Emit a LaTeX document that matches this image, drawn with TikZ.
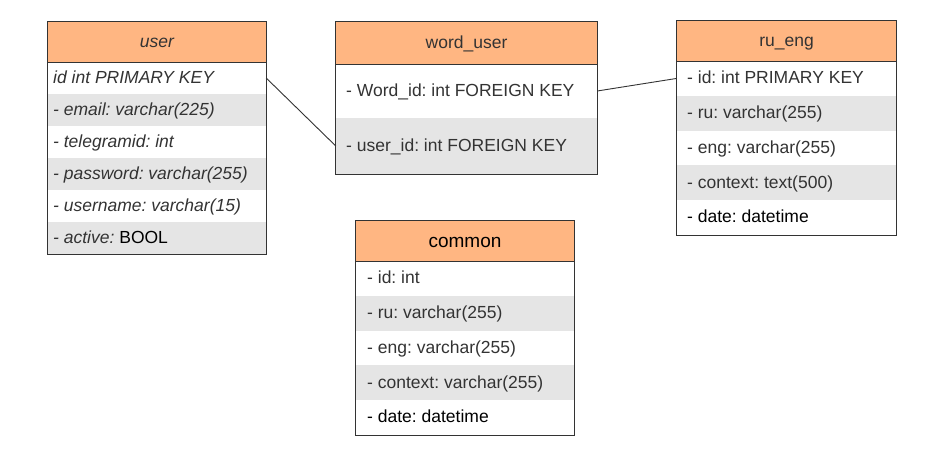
\documentclass[tikz,border=0pt]{standalone}
\usepackage{fontspec}
\setmainfont{Liberation Sans}
\frenchspacing
\definecolor{hdr}{HTML}{FFB682}
\definecolor{alt}{HTML}{E5E5E5}
\definecolor{ink}{HTML}{333333}
\begin{document}
\begin{tikzpicture}[x=1pt,y=-1pt,
  cell/.style={draw=none,inner sep=0pt,minimum width=#1},
  head/.style={fill=hdr},
  grayrow/.style={fill=alt},
  whiterow/.style={fill=white},
  frame/.style={draw=ink,line width=1.3pt},
  txt/.style={anchor=base west,inner sep=0pt,text=ink,font=\frenchspacing\fontsize{17.5}{20}\selectfont},
  htxt/.style={anchor=base,inner sep=0pt,text=ink,font=\frenchspacing\fontsize{17.5}{20}\selectfont},
  link/.style={draw=ink,line width=0.9pt}]
\useasboundingbox[fill=white] (0,0) rectangle (927,451);

% ---------- user ----------
\node[cell=218pt,minimum height=40pt,head] (uh) at (157,42) {};
\node[cell=218pt,minimum height=32pt,whiterow] (u1) at (157,78) {};
\node[cell=218pt,minimum height=32pt,grayrow] (u2) at (157,110) {};
\node[cell=218pt,minimum height=32pt,whiterow] (u3) at (157,142) {};
\node[cell=218pt,minimum height=32pt,grayrow] (u4) at (157,174) {};
\node[cell=218pt,minimum height=32pt,whiterow] (u5) at (157,206) {};
\node[cell=218pt,minimum height=32pt,grayrow] (u6) at (157,238) {};
\draw[frame] (uh.north west) rectangle (u6.south east);
\draw[frame] (uh.south west) -- (uh.south east);
\node[htxt] (uht) at (157,47) {\itshape user};
\node[txt] (u1t) at (53,83) {\itshape id int PRIMARY KEY};
\node[txt] (u2t) at (53,115) {\itshape - email: varchar(225)};
\node[txt] (u3t) at (53,147) {\itshape - telegramid: int};
\node[txt] (u4t) at (53,179) {\itshape - password: varchar(255)};
\node[txt] (u5t) at (53,211) {\itshape - username: varchar(15)};
\node[txt] (u6t) at (53,243) {\itshape - active: \upshape\color{black}BOOL};

% ---------- word_user ----------
\node[cell=261pt,minimum height=42pt,head] (wh) at (466.5,43) {};
\node[cell=261pt,minimum height=54pt,whiterow] (w1) at (466.5,91) {};
\node[cell=261pt,minimum height=56pt,grayrow] (w2) at (466.5,146) {};
\draw[frame] (wh.north west) rectangle (w2.south east);
\draw[frame] (wh.south west) -- (wh.south east);
\node[htxt] (wht) at (466.5,48) {word\_user};
\node[txt] (w1t) at (346,96) {- Word\_id: int FOREIGN KEY};
\node[txt] (w2t) at (346,151.5) {- user\_id: int FOREIGN KEY};

% ---------- ru_eng ----------
\node[cell=219pt,minimum height=40pt,head] (rh) at (786.5,41) {};
\node[cell=219pt,minimum height=34.8pt,whiterow] (r1) at (786.5,78.4) {};
\node[cell=219pt,minimum height=34.8pt,grayrow] (r2) at (786.5,113.2) {};
\node[cell=219pt,minimum height=34.8pt,whiterow] (r3) at (786.5,148) {};
\node[cell=219pt,minimum height=34.8pt,grayrow] (r4) at (786.5,182.8) {};
\node[cell=219pt,minimum height=34.8pt,whiterow] (r5) at (786.5,217.6) {};
\draw[frame] (rh.north west) rectangle (r5.south east);
\draw[frame] (rh.south west) -- (rh.south east);
\node[htxt] (rht) at (786.5,46) {ru\_eng};
\node[txt] (r1t) at (687,83) {- id: int PRIMARY KEY};
\node[txt] (r2t) at (687,118) {- ru: varchar(255)};
\node[txt] (r3t) at (687,153) {- eng: varchar(255)};
\node[txt] (r4t) at (687,188) {- context: text(500)};
\node[txt,text=black] (r5t) at (687,222.5) {- date: datetime};

% ---------- common ----------
\node[cell=218pt,minimum height=40pt,head] (ch) at (465,241) {};
\node[cell=218pt,minimum height=34.8pt,whiterow] (c1) at (465,278.4) {};
\node[cell=218pt,minimum height=34.8pt,grayrow] (c2) at (465,313.2) {};
\node[cell=218pt,minimum height=34.8pt,whiterow] (c3) at (465,348) {};
\node[cell=218pt,minimum height=34.8pt,grayrow] (c4) at (465,382.8) {};
\node[cell=218pt,minimum height=34.8pt,whiterow] (c5) at (465,417.6) {};
\draw[frame] (ch.north west) rectangle (c5.south east);
\draw[frame] (ch.south west) -- (ch.south east);
\node[htxt,text=black,font=\fontsize{19}{22}\selectfont] (cht) at (465,247) {common};
\node[txt] (c1t) at (367,283) {- id: int};
\node[txt] (c2t) at (367,318) {- ru: varchar(255)};
\node[txt] (c3t) at (367,353) {- eng: varchar(255)};
\node[txt] (c4t) at (367,388) {- context: varchar(255)};
\node[txt,text=black] (c5t) at (367,422.5) {- date: datetime};

% ---------- connectors ----------
\draw[link] (u1.east) -- (w2.west);
\draw[link] (w1.east) -- (r1.west);
\end{tikzpicture}
\end{document}
